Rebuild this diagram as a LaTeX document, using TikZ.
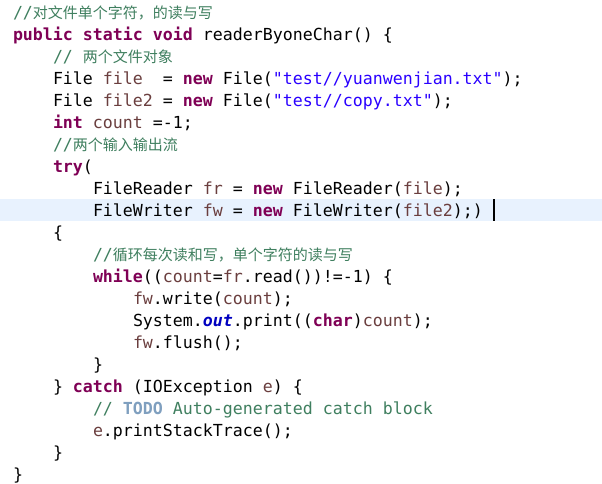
\documentclass[tikz,border=0pt]{standalone}
\usepackage{fontspec}
\newfontfamily\codefont{DejaVu Sans Mono}
\newfontfamily\zhfont{Noto Sans CJK SC}
\definecolor{kwc}{HTML}{7F0055}
\definecolor{cmc}{HTML}{3F7F5F}
\definecolor{stc}{HTML}{2A00FF}
\definecolor{lvc}{HTML}{6A3E3E}
\definecolor{fdc}{HTML}{0000C0}
\definecolor{tdc}{HTML}{7F9FBF}
\definecolor{curline}{HTML}{E8F2FE}
\newcommand\Kw[1]{\textcolor{kwc}{\bfseries #1}}
\newcommand\Cm[1]{\textcolor{cmc}{#1}}
\newcommand\Sq[1]{\textcolor{stc}{#1}}
\newcommand\Lv[1]{\textcolor{lvc}{#1}}
\newcommand\Fd[1]{\textcolor{fdc}{\bfseries\itshape #1}}
\newcommand\Td[1]{\textcolor{tdc}{\bfseries #1}}
\newcommand\Zh[1]{{\zhfont\fontsize{15}{22}\selectfont #1}}
\begin{document}
\begin{tikzpicture}[x=1pt,y=-1pt,
  codeline/.style={anchor=base west, inner sep=0pt, outer sep=0pt,
    font=\codefont\fontsize{16.6}{22}\selectfont, text=black}]
\useasboundingbox (0,0) rectangle (602,483);
\fill[white] (0,0) rectangle (602,483);
\fill[curline] (0,199) rectangle (602,221);
\node[codeline] (l1) at (13,18) {\Cm{//\Zh{对文件单个字符，的读与写}}};
\node[codeline] (l2) at (13,40) {\Kw{public static void} readerByoneChar() \{};
\node[codeline] (l3) at (53,62) {\Cm{// \Zh{两个文件对象}}};
\node[codeline] (l4) at (53,84) {File \Lv{file}~~= \Kw{new} File(\Sq{"test//yuanwenjian.txt"});};
\node[codeline] (l5) at (53,106) {File \Lv{file2} = \Kw{new} File(\Sq{"test//copy.txt"});};
\node[codeline] (l6) at (53,128) {\Kw{int} \Lv{count} =-1;};
\node[codeline] (l7) at (53,150) {\Cm{//\Zh{两个输入输出流}}};
\node[codeline] (l8) at (53,172) {\Kw{try}(};
\node[codeline] (l9) at (93,194) {FileReader \Lv{fr} = \Kw{new} FileReader(\Lv{file});};
\node[codeline] (l10) at (93,216) {FileWriter \Lv{fw} = \Kw{new} FileWriter(\Lv{file2});)};
\node[codeline] (l11) at (53,238) {\{};
\node[codeline] (l12) at (93,260) {\Cm{//\Zh{循环每次读和写，单个字符的读与写}}};
\node[codeline] (l13) at (93,282) {\Kw{while}((\Lv{count}=\Lv{fr}.read())!=-1) \{};
\node[codeline] (l14) at (133,304) {\Lv{fw}.write(\Lv{count});};
\node[codeline] (l15) at (133,326) {System.\Fd{out}.print((\Kw{char})\Lv{count});};
\node[codeline] (l16) at (133,348) {\Lv{fw}.flush();};
\node[codeline] (l17) at (93,370) {\}};
\node[codeline] (l18) at (53,392) {\} \Kw{catch} (IOException \Lv{e}) \{};
\node[codeline] (l19) at (93,414) {\Cm{// }\Td{TODO} \Cm{Auto-generated catch block}};
\node[codeline] (l20) at (93,436) {\Lv{e}.printStackTrace();};
\node[codeline] (l21) at (53,458) {\}};
\node[codeline] (l22) at (13,480) {\}};
\fill[black] (493,199) rectangle (495,221);
\end{tikzpicture}
\end{document}
